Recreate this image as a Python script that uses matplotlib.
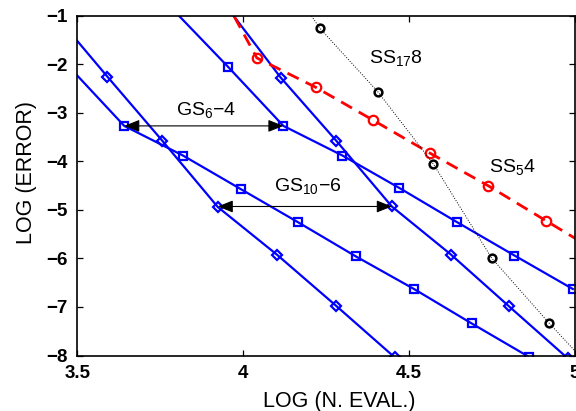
import matplotlib
matplotlib.use("Agg")
import matplotlib.pyplot as plt

plt.rcParams['font.family'] = ['Liberation Sans', 'DejaVu Sans']
plt.rcParams['mathtext.fontset'] = 'custom'
plt.rcParams['mathtext.rm'] = 'Liberation Sans'
plt.rcParams['mathtext.it'] = 'Liberation Sans:italic'
plt.rcParams['mathtext.bf'] = 'Liberation Sans:bold'
plt.rcParams['mathtext.default'] = 'rm'

# ---- data (log10 evaluations, log10 error) ----
gs_sq_low_x = [3.467, 3.642, 3.819, 3.993, 4.165, 4.341, 4.516, 4.690, 4.863]
gs_sq_low_y = [-1.99, -3.27, -3.88, -4.57, -5.25, -5.96, -6.63, -7.34, -8.03]

gs_sq_high_x = [3.780, 3.956, 4.122, 4.300, 4.472, 4.645, 4.819, 4.995]
gs_sq_high_y = [-0.81, -2.06, -3.27, -3.88, -4.55, -5.25, -5.94, -6.63]

gs_di_low_x = [3.425, 3.591, 3.757, 3.924, 4.102, 4.280, 4.458]
gs_di_low_y = [-0.91, -2.255, -3.578, -4.94, -5.92, -6.97, -8.04]

gs_di_high_x = [3.948, 4.114, 4.281, 4.449, 4.628, 4.803, 4.980]
gs_di_high_y = [-0.79, -2.276, -3.572, -4.93, -5.924, -6.99, -8.06]

ss5_x = [3.868, 4.042, 4.219, 4.391, 4.564, 4.740, 4.914, 5.090]
ss5_y = [0.30, -1.870, -2.473, -3.146, -3.831, -4.504, -5.224, -5.95]

ss17_x = [4.058, 4.232, 4.408, 4.574, 4.750, 4.923, 5.097]
ss17_y = [0.48, -1.259, -2.576, -4.051, -5.992, -7.329, -8.61]

xticks = [3.5, 4, 4.5, 5]
xticklabels = ["3.5", "4", "4.5", "5"]
yticks = [-8, -7, -6, -5, -4, -3, -2, -1]

# annotation arrows: (x_start, x_end, y)
arrow_gs6 = (3.642, 4.122, -3.27)
arrow_gs10 = (3.924, 4.449, -4.93)

fig = plt.figure(figsize=(5.76, 4.11), dpi=100)
ax = fig.add_axes([0.134, 0.135, 0.8634, 0.8268])

blue = (0, 0, 1)
for xs, ys, mk, ms in [(gs_sq_low_x, gs_sq_low_y, 's', 5.5),
                       (gs_sq_high_x, gs_sq_high_y, 's', 5.5),
                       (gs_di_low_x, gs_di_low_y, 'D', 4.8),
                       (gs_di_high_x, gs_di_high_y, 'D', 4.8)]:
    ax.plot(xs, ys, '-', color=blue, lw=1.6, marker=mk, ms=ms,
            mfc='none', mec=blue, mew=1.6)

ax.plot(ss5_x, ss5_y, color='red', lw=2.0, dashes=(4.5, 2.8),
        marker='o', ms=6.8, mfc='none', mec='red', mew=1.6)
ax.plot(ss17_x, ss17_y, color='black', lw=0.7, ls=':',
        marker='o', ms=5.6, mfc='none', mec='black', mew=1.8)

for (x0, x1, y) in (arrow_gs6, arrow_gs10):
    ax.annotate('', xy=(x1, y), xytext=(x0, y),
                arrowprops=dict(arrowstyle='<|-|>,head_length=0.55,head_width=0.22',
                                color='k', lw=0.8, mutation_scale=17,
                                shrinkA=0, shrinkB=0))

ax.text(3.797, -3.045, 'GS$_{6}$\u22124', fontsize=14, ha='left', va='baseline')
ax.text(4.093, -4.62, 'GS$_{10}$\u22126', fontsize=14, ha='left', va='baseline')
ax.text(4.381, -1.979, 'SS$_{17}$8', fontsize=14, ha='left', va='baseline')
ax.text(4.743, -4.21, 'SS$_{5}$4', fontsize=14, ha='left', va='baseline')

ax.set_xlim(3.5, 5)
ax.set_ylim(-8, -1)
ax.set_xticks(xticks)
ax.set_xticklabels(xticklabels)
ax.set_yticks(yticks)
ax.tick_params(direction='in', top=True, right=True, length=4, width=0.9,
               labelsize=13.5, pad=7)
for lab in ax.get_xticklabels() + ax.get_yticklabels():
    lab.set_fontweight('bold')
for s in ax.spines.values():
    s.set_linewidth(1.2)

fig.text(339.7 / 576, 1 - 407 / 411, 'LOG (N. EVAL.)', fontsize=15.5,
         ha='center', va='baseline')
fig.text(32 / 576, 1 - 172.2 / 411, 'LOG (ERROR)', fontsize=15.5,
         ha='center', va='baseline', rotation=90, rotation_mode='anchor')

fig.savefig('out.png', dpi=100)
